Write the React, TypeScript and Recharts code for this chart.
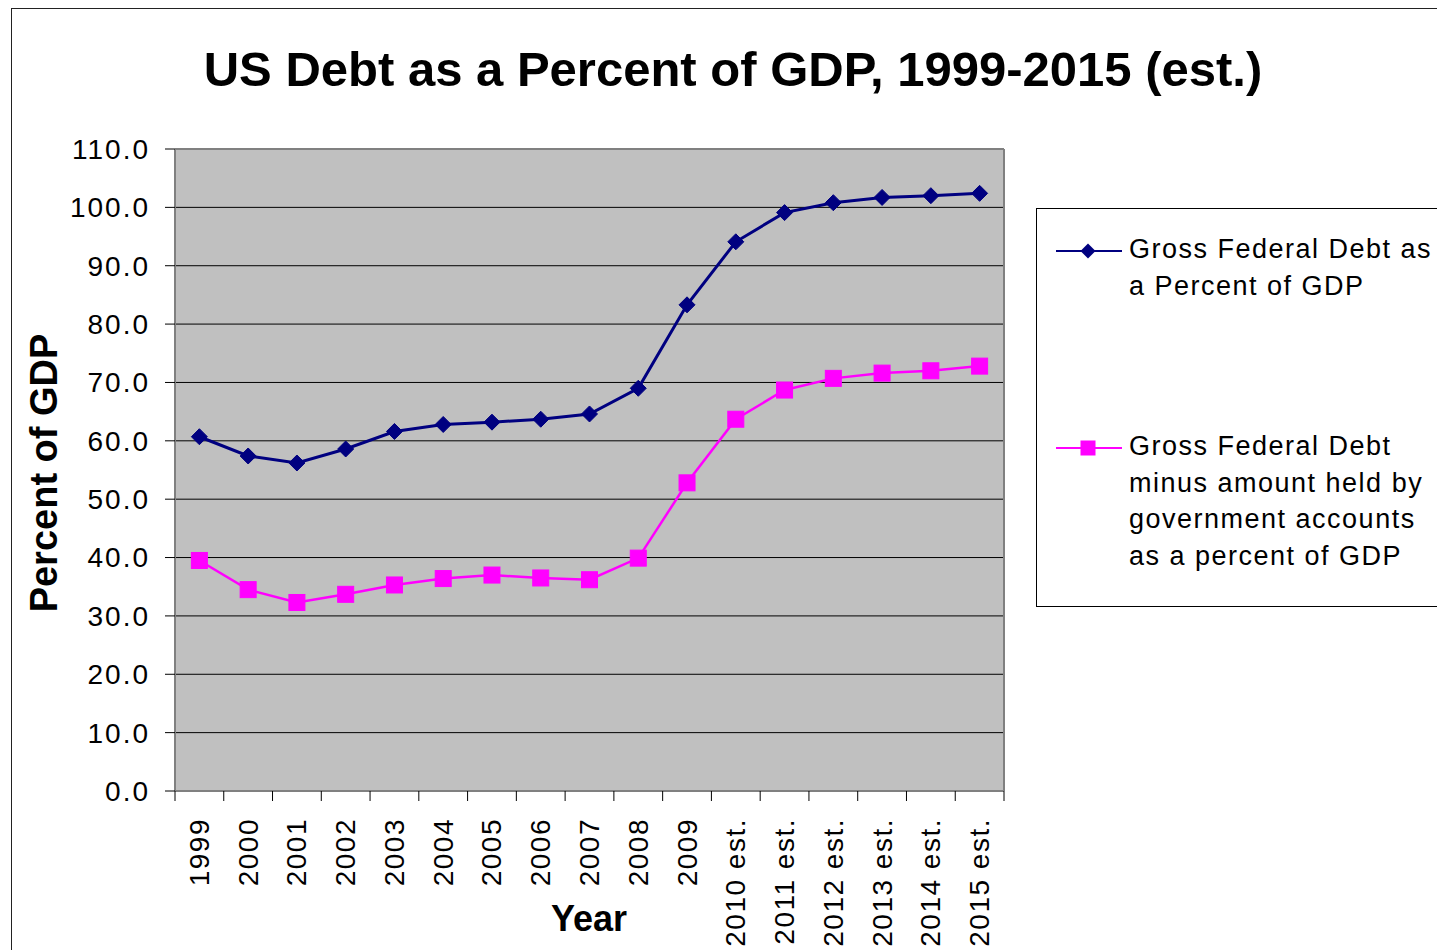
import React from 'react';
import { LineChart, Line, XAxis, YAxis, CartesianGrid, ReferenceLine } from 'recharts';

const categories = ['1999', '2000', '2001', '2002', '2003', '2004', '2005', '2006', '2007', '2008', '2009', '2010 est.', '2011 est.', '2012 est.', '2013 est.', '2014 est.', '2015 est.'];
const grossDebt = [60.7, 57.4, 56.2, 58.6, 61.6, 62.8, 63.2, 63.7, 64.6, 69.0, 83.3, 94.1, 99.1, 100.8, 101.7, 102.0, 102.4];
const publicDebt = [39.5, 34.5, 32.3, 33.7, 35.3, 36.4, 37.0, 36.5, 36.2, 39.9, 52.8, 63.7, 68.7, 70.7, 71.6, 72.0, 72.8];
const yTicks = [0, 10, 20, 30, 40, 50, 60, 70, 80, 90, 100, 110];

const seriesNames = ['Gross Federal Debt as a Percent of GDP', 'Gross Federal Debt minus amount held by government accounts as a percent of GDP'];
const legendLines = [['Gross Federal Debt as', 'a Percent of GDP'], ['Gross Federal Debt', 'minus amount held by', 'government accounts', 'as a percent of GDP']];

const BLUE = '#000080';
const PINK = '#FF00FF';
const FONT = '"Liberation Sans", Arial, Helvetica, sans-serif';

const W = 1437;
const H = 950;
const PLOT_LEFT = 175;
const PLOT_RIGHT = 1004;
const PLOT_TOP = 149;
const PLOT_BOTTOM = 791;
const Y_AXIS_W = 100;
const X_AXIS_H = 150;
const TICK_SIZE = 10;
const X_TICK_MARGIN = 17;

const data = categories.map((c, i) => ({ year: c, gross: grossDebt[i], pub: publicDebt[i] }));
const bandWidth = (PLOT_RIGHT - PLOT_LEFT) / categories.length;

const Diamond = (props: any) => {
  const { cx, cy } = props;
  if (cx == null || cy == null) return null;
  const r = 8;
  return <polygon points={`${cx},${cy - r} ${cx + r},${cy} ${cx},${cy + r} ${cx - r},${cy}`} fill={BLUE} stroke={BLUE} strokeWidth={1} />;
};

const Square = (props: any) => {
  const { cx, cy } = props;
  if (cx == null || cy == null) return null;
  const s = 8;
  return <rect x={cx - s} y={cy - s} width={2 * s} height={2 * s} fill={PINK} stroke={PINK} strokeWidth={1} />;
};

const XTick = (props: any) => {
  const { x, y, payload, index } = props;
  const axisY = y - TICK_SIZE - X_TICK_MARGIN;
  const left = x - bandWidth / 2;
  return (
    <g>
      <line x1={left} y1={axisY} x2={left} y2={axisY + TICK_SIZE} stroke="#000" strokeWidth={1} />
      {index === categories.length - 1 && (
        <line x1={x + bandWidth / 2} y1={axisY} x2={x + bandWidth / 2} y2={axisY + TICK_SIZE} stroke="#000" strokeWidth={1} />
      )}
      <text
        x={x}
        y={y}
        transform={`rotate(-90, ${x}, ${y})`}
        textAnchor="end"
        dominantBaseline="central"
        fontFamily={FONT}
        fontSize={28}
        letterSpacing={1.5}
        fill="#000"
      >
        {payload.value}
      </text>
    </g>
  );
};

const Legend = () => {
  const lx1 = 1056;
  const lx2 = 1122;
  const mx = 1088;
  const tx = 1129;
  const lh = 36.5;
  const blocks = [
    { top: 251, color: BLUE, marker: 'diamond', lines: legendLines[0] },
    { top: 448, color: PINK, marker: 'square', lines: legendLines[1] },
  ];
  return (
    <svg width={W} height={H} style={{ position: 'absolute', left: 0, top: 0, pointerEvents: 'none' }}>
      <rect x={1036.5} y={208.5} width={500} height={398} fill="#fff" stroke="#000" strokeWidth={1} />
      {blocks.map((b, bi) => (
        <g key={bi}>
          <line x1={lx1} y1={b.top} x2={lx2} y2={b.top} stroke={b.color} strokeWidth={2} />
          {b.marker === 'diamond' ? (
            <polygon points={`${mx},${b.top - 7.5} ${mx + 7.5},${b.top} ${mx},${b.top + 7.5} ${mx - 7.5},${b.top}`} fill={b.color} />
          ) : (
            <rect x={mx - 7.5} y={b.top - 7.5} width={15} height={15} fill={b.color} />
          )}
          {b.lines.map((t, i) => (
            <text key={i} x={tx} y={b.top + 7 + i * lh} fontFamily={FONT} fontSize={27} letterSpacing={1.5} fill="#000">
              {t}
            </text>
          ))}
        </g>
      ))}
      <text x={733} y={86} textAnchor="middle" fontFamily={FONT} fontWeight="bold" fontSize={49} fill="#000">
        US Debt as a Percent of GDP, 1999-2015 (est.)
      </text>
      <text x={589} y={931} textAnchor="middle" fontFamily={FONT} fontWeight="bold" fontSize={36} fill="#000">
        Year
      </text>
      <text x={57} y={473} transform="rotate(-90, 57, 473)" textAnchor="middle" fontFamily={FONT} fontWeight="bold" fontSize={38} fill="#000">
        Percent of GDP
      </text>
    </svg>
  );
};

export default function App() {
  return (
    <div style={{ position: 'absolute', left: 0, top: 0, width: W, height: H, overflow: 'hidden', background: '#fff' }}>
      <div style={{ position: 'absolute', left: 11, top: 8, width: 1600, height: 1200, border: '1px solid #222', boxSizing: 'border-box' }} />
      <div style={{ position: 'absolute', left: 0, top: 0 }}>
        <LineChart
          width={W}
          height={H}
          data={data}
          margin={{ top: PLOT_TOP, right: W - PLOT_RIGHT, left: PLOT_LEFT - Y_AXIS_W, bottom: H - PLOT_BOTTOM - X_AXIS_H }}
        >
          <CartesianGrid vertical={false} horizontal={true} stroke="#000" strokeWidth={1} fill="#C0C0C0" fillOpacity={1} />
          <XAxis
            dataKey="year"
            interval={0}
            height={X_AXIS_H}
            padding={{ left: bandWidth / 2, right: bandWidth / 2 }}
            tickSize={TICK_SIZE}
            tickMargin={X_TICK_MARGIN}
            tickLine={false}
            axisLine={{ stroke: '#808080', strokeWidth: 2 }}
            tick={<XTick />}
          />
          <YAxis
            domain={[0, 110]}
            ticks={yTicks}
            interval={0}
            width={Y_AXIS_W}
            tickSize={TICK_SIZE}
            tickMargin={15}
            tickFormatter={(v: number) => v.toFixed(1)}
            tick={{ fontFamily: FONT, fontSize: 28, fill: '#000', letterSpacing: 2 }}
            tickLine={{ stroke: '#000' }}
            axisLine={{ stroke: '#808080', strokeWidth: 2 }}
          />
          <ReferenceLine y={110} stroke="#808080" strokeWidth={2} />
          <Line
            name={seriesNames[0]}
            dataKey="gross"
            stroke={BLUE}
            strokeWidth={3}
            dot={<Diamond />}
            activeDot={false}
            isAnimationActive={false}
          />
          <Line
            name={seriesNames[1]}
            dataKey="pub"
            stroke={PINK}
            strokeWidth={2.5}
            dot={<Square />}
            activeDot={false}
            isAnimationActive={false}
          />
        </LineChart>
      </div>
      <div style={{ position: 'absolute', left: PLOT_RIGHT - 1, top: PLOT_TOP, width: 2, height: PLOT_BOTTOM - PLOT_TOP, background: '#808080' }} />
      <Legend />
    </div>
  );
}
